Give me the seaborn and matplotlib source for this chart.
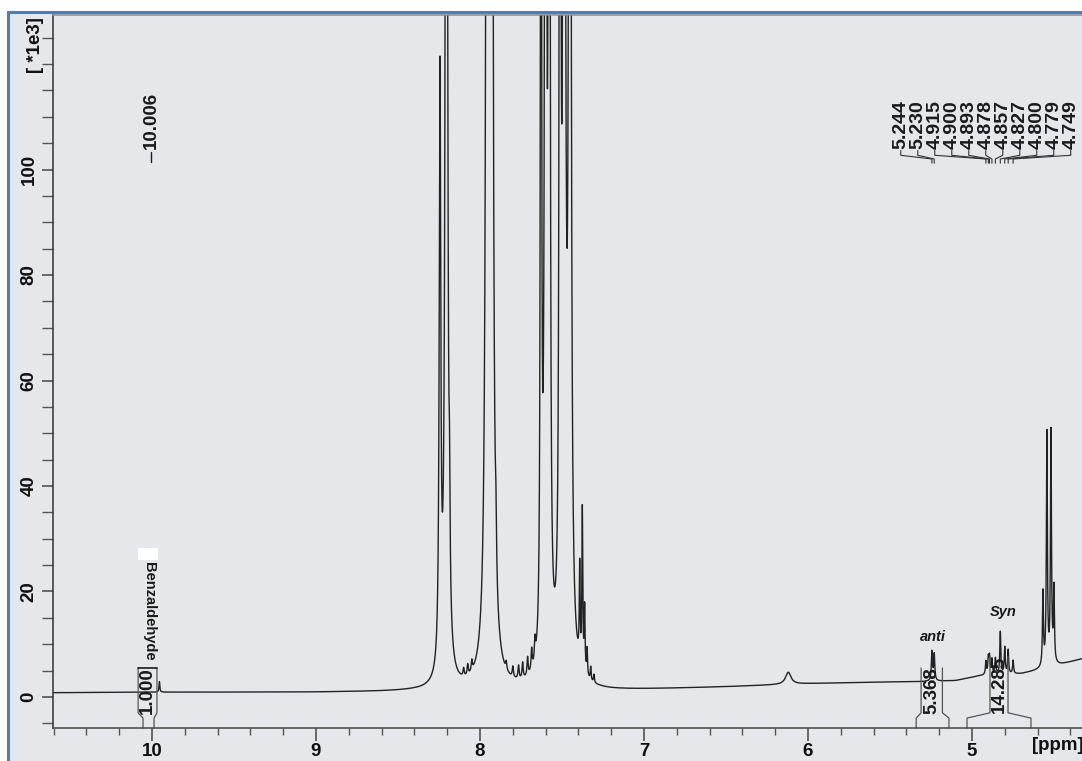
import numpy as np
import pandas as pd
import matplotlib
matplotlib.use("Agg")
import matplotlib.pyplot as plt
import seaborn as sns
from matplotlib.ticker import MultipleLocator, FixedLocator
from matplotlib.patches import Rectangle

# ---------------- data ----------------
# Lorentzian lines: centre (ppm), height (x1e3), half width (ppm)
peak_ppm = [9.955,
            8.244, 8.205, 8.186, 8.10, 8.075, 8.05,
            7.955, 7.930, 7.903, 7.84, 7.80, 7.765, 7.74, 7.71, 7.685, 7.665,
            7.628, 7.600, 7.578,
            7.512, 7.487, 7.452,
            7.392, 7.376, 7.362, 7.347, 7.325, 7.305,
            6.120,
            5.244, 5.230,
            4.915, 4.900, 4.893, 4.878, 4.857, 4.827, 4.800, 4.779, 4.749,
            4.567, 4.543, 4.518, 4.500]
peak_height = [2.0,
               112, 400, 18, 1.5, 2.0, 2.0,
               500, 500, 9, 1.5, 2.0, 2.5, 3.0, 3.5, 4.0, 4.0,
               260, 500, 550,
               550, 400, 500,
               18, 30, 12, 5, 2.5, 1.5,
               2.3,
               5.5, 5.0,
               2.5, 3.0, 3.2, 2.8, 3.0, 8.0, 5.0, 4.5, 2.5,
               14, 44, 44, 14]
peak_hwhm = [0.003,
             0.0055, 0.0055, 0.004, 0.004, 0.004, 0.004,
             0.006, 0.006, 0.004, 0.004, 0.004, 0.004, 0.004, 0.004, 0.004, 0.004,
             0.0035, 0.004, 0.0035,
             0.003, 0.006, 0.005,
             0.003, 0.003, 0.003, 0.003, 0.003, 0.003,
             0.02,
             0.004, 0.004,
             0.0035, 0.0035, 0.0035, 0.0035, 0.0035, 0.0035, 0.0035, 0.0035, 0.0035,
             0.0035, 0.0035, 0.0035, 0.0035]

baseline_ppm = [10.62, 10.0, 9.0, 8.6, 8.4, 7.2, 7.0, 6.5, 6.0, 5.6, 5.3, 5.1, 4.97, 4.9, 4.7, 4.62, 4.45, 4.32]
baseline_val = [0.8, 0.9, 0.9, 1.0, 1.1, 1.2, 1.4, 1.9, 2.5, 2.8, 2.9, 3.1, 3.9, 4.2, 4.4, 4.9, 6.2, 7.3]

label_values = ["5.244", "5.230", "4.915", "4.900", "4.893", "4.878",
                "4.857", "4.827", "4.800", "4.779", "4.749"]
label_ppm = [5.244, 5.230, 4.915, 4.900, 4.893, 4.878, 4.857, 4.827, 4.800, 4.779, 4.749]

integral_values = ["1.000", "5.368", "14.285"]
integral_box = [(10.085, 9.970), (5.31, 5.18), (4.89, 4.78)]
integral_feet = [(10.055, 9.988), (5.34, 5.14), (5.03, 4.64)]

x_ticks = [10, 9, 8, 7, 6, 5]
y_ticks = [0, 20, 40, 60, 80, 100]

# ---------------- spectrum ----------------
ppm = np.linspace(10.65, 4.30, 60000)
intensity = np.interp(ppm, baseline_ppm[::-1], baseline_val[::-1])
for c, h, w in zip(peak_ppm, peak_height, peak_hwhm):
    intensity = intensity + h / (1.0 + ((ppm - c) / w) ** 2)
df = pd.DataFrame({"ppm": ppm, "intensity": intensity})

# ---------------- figure ----------------
sns.set_theme(style="ticks")
plt.rcParams["font.family"] = ["Liberation Sans", "DejaVu Sans"]
plt.rcParams["font.weight"] = "bold"

W, H = 1082, 761
fig = plt.figure(figsize=(W / 100, H / 100), dpi=100)
fig.patch.set_facecolor("white")
paper = "#e6e7ea"
fig.patches.append(Rectangle((8 / W, -0.05), 1.2, (H - 12) / H + 0.05,
                             transform=fig.transFigure, facecolor=paper,
                             edgecolor="#4a7ebb", linewidth=2.2, zorder=-5))

ax = fig.add_axes([53 / W, (H - 728) / H, (1090 - 53) / W, (728 - 15) / H])
ax.set_facecolor("none")

sns.lineplot(data=df, x="ppm", y="intensity", ax=ax, color="#222222",
             linewidth=1.0, estimator=None, sort=False)

ax.set_xlim(10.604, 4.28)
ax.set_ylim(-5.88, 129.3)
ax.set_xlabel("")
ax.set_ylabel("")

FS = 13.5
ax.xaxis.set_major_locator(FixedLocator(x_ticks))
ax.xaxis.set_minor_locator(MultipleLocator(0.2))
ax.yaxis.set_major_locator(FixedLocator(y_ticks))
ax.yaxis.set_minor_locator(MultipleLocator(5))
ax.set_xticklabels([str(t) for t in x_ticks])
ax.set_yticklabels([str(t) for t in y_ticks])
ax.tick_params(axis="x", which="major", direction="out", length=9, width=1.1,
               color="#444444", labelsize=FS, pad=2, labelcolor="#111111")
ax.tick_params(axis="x", which="minor", direction="out", length=5, width=1.0, color="#555555")
ax.tick_params(axis="y", which="major", direction="out", length=8, width=1.1,
               color="#444444", labelsize=FS, pad=3, labelcolor="#111111")
ax.tick_params(axis="y", which="minor", direction="out", length=8, width=1.0, color="#555555")
for lab in ax.get_yticklabels():
    lab.set_rotation(90)
    lab.set_va("center")
    lab.set_fontweight("bold")
for lab in ax.get_xticklabels():
    lab.set_fontweight("bold")

ax.spines["right"].set_visible(False)
ax.spines["left"].set_color("#333333")
ax.spines["bottom"].set_color("#444444")
ax.spines["top"].set_color("#8a8a8a")
for s in ["left", "bottom", "top"]:
    ax.spines[s].set_linewidth(1.1)

# unit labels
fig.text(35 / W, 1 - 45 / H, "[ *1e3]", rotation=90, ha="center", va="center",
         fontsize=FS, fontweight="bold", color="#111111")
fig.text(1032 / W, 1 - 746 / H, "[ppm]", ha="left", va="center",
         fontsize=FS, fontweight="bold", color="#111111")

txt_col = "#1a1a1a"
# peak label for aldehyde
ax.text(10.006, 103.8, "10.006", rotation=90, ha="center", va="bottom",
        fontsize=FS, fontweight="bold", color=txt_col)
ax.plot([10.006, 10.006], [101.4, 103.4], color=txt_col, lw=1.0)

# peak labels with leaders (top right)
px_per_ppm = 164.0
spacing = 17.0 / px_per_ppm
n = len(label_values)
centre = np.mean(label_ppm)
for i, (lv, lp) in enumerate(zip(label_values, label_ppm)):
    xl = centre + ((n - 1) / 2 - i) * spacing
    ax.text(xl, 103.8, lv, rotation=90, ha="center", va="bottom",
            fontsize=14, fontweight="bold", color=txt_col)
    ax.plot([xl, xl, lp, lp], [103.6, 102.7, 102.0, 101.2], color="#333333", lw=0.8)

# integrals
for k, (val, box, feet) in enumerate(zip(integral_values, integral_box, integral_feet)):
    ytop = 7.6 if k == 2 else 5.5
    ax.plot([box[0], box[0], feet[0], feet[0]], [ytop, -3.0, -4.0, -5.88],
            color="#555555", lw=0.9, clip_on=False)
    ax.plot([box[1], box[1], feet[1], feet[1]], [ytop, -3.0, -4.0, -5.88],
            color="#555555", lw=0.9, clip_on=False)
    ax.text((box[0] + box[1]) / 2, (ytop - 3.0) / 2, val, rotation=90,
            ha="center", va="center", fontsize=FS, fontweight="bold", color=txt_col)
ax.plot([integral_box[0][0], integral_box[0][1]], [5.5, 5.5], color=txt_col, lw=1.2)

# compound annotations
ax.text(10.02, 25.6, "Benzaldehyde", rotation=270, ha="center", va="top",
        fontsize=10.5, fontweight="bold", color=txt_col)
ax.add_patch(Rectangle((10.085, 26.0), -0.12, 2.3, facecolor="white", edgecolor="none"))
ax.text(5.235, 11.4, "anti", ha="center", va="center", fontsize=10.5,
        fontweight="bold", style="italic", color=txt_col)
ax.text(4.81, 16.1, "Syn", ha="center", va="center", fontsize=10.5,
        fontweight="bold", style="italic", color=txt_col)

fig.savefig("out.png", dpi=100, facecolor=fig.get_facecolor())
